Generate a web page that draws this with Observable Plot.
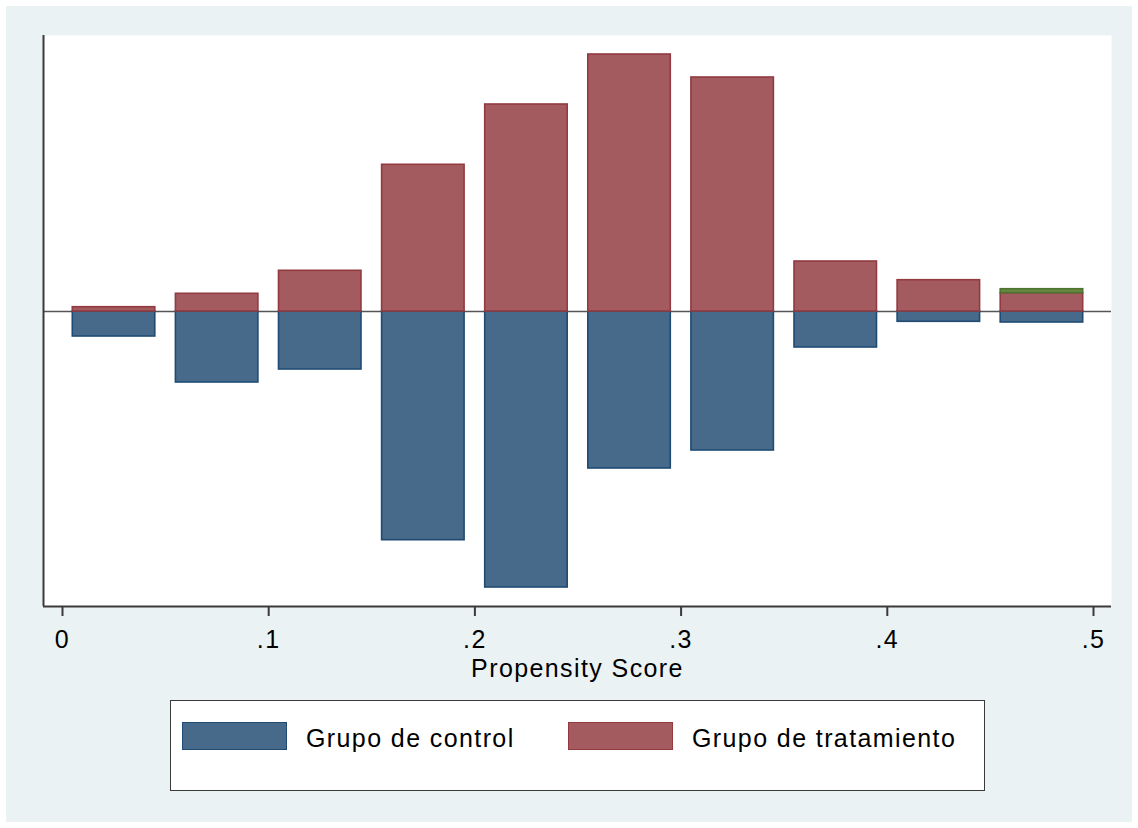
<!DOCTYPE html>
<html>
<head>
<meta charset="utf-8">
<script src="https://cdn.jsdelivr.net/npm/d3@7"></script>
<script src="https://cdn.jsdelivr.net/npm/@observablehq/plot@0.6"></script>
<style>
  html, body { margin: 0; padding: 0; background: #ffffff; }
  body { width: 1138px; height: 828px; position: relative; overflow: hidden;
         font-family: "Liberation Sans", Arial, sans-serif; }
  #panel { position: absolute; left: 6px; top: 6px; width: 1126px; height: 816px; background: #EAF2F3; }
  #chart { position: absolute; left: 0; top: 0; }
  #legend { position: absolute; left: 164px; top: 694px; width: 813px; height: 89px;
            background: #ffffff; border: 1.5px solid #3a3a3a; }
  .sw { position: absolute; top: 21px; width: 103px; height: 26px; border: 1.5px solid; }
  .lt { position: absolute; top: 22px; font-size: 25px; line-height: 30px; color: #000; letter-spacing: 1.4px; }
</style>
</head>
<body>
<div id="panel">
  <div id="chart"></div>
  <div id="legend"></div>
</div>
<script>
// Propensity score bin centres (bin width 0.05)
const binCenters = [0.025, 0.075, 0.125, 0.175, 0.225, 0.275, 0.325, 0.375, 0.425, 0.475];
// Frequencies (arbitrary units)
const treatedOn  = [4.3, 17.7, 40.7, 146.7, 207, 257, 234, 50, 31.3, 18.3];
const treatedOff = [0, 0, 0, 0, 0, 0, 0, 0, 0, 4];
const controlOn  = [25, 71, 58, 228.7, 276, 157, 139, 36, 10.3, 11];
const xTicks = [0, 0.1, 0.2, 0.3, 0.4, 0.5];
const seriesNames = ["Grupo de control", "Grupo de tratamiento"];
const colors = {control: {fill: "#476A8B", stroke: "#1F4B73"},
                treated: {fill: "#A35B5F", stroke: "#923A40"},
                off: {fill: "#66883F", stroke: "#4C7330"}};

const half = 0.02;
const rows = binCenters.map((c, i) => ({
  x1: c - half, x2: c + half,
  t: treatedOn[i], off: treatedOff[i], c: controlOn[i]
}));

const xDomain = [-0.00921, 0.50873];
const yDomain = [-295, 276];

const plot = Plot.plot({
  width: 1126,
  height: 690,
  marginLeft: 37,
  marginRight: 21,
  marginTop: 29,
  marginBottom: 90,
  style: {background: "transparent", fontFamily: "'Liberation Sans', Arial, sans-serif", fontSize: "25px", color: "#000"},
  x: {domain: xDomain},
  y: {domain: yDomain, axis: null},
  marks: [
    Plot.frame({fill: "#ffffff", stroke: null}),
    Plot.ruleY([0], {stroke: "#555", strokeWidth: 1.6}),
    Plot.rect(rows, {x1: "x1", x2: "x2", y1: 0, y2: d => -d.c,
      fill: colors.control.fill, stroke: colors.control.stroke, strokeWidth: 1.6}),
    Plot.rect(rows, {x1: "x1", x2: "x2", y1: 0, y2: "t",
      fill: colors.treated.fill, stroke: colors.treated.stroke, strokeWidth: 1.6}),
    Plot.rect(rows.filter(d => d.off > 0), {x1: "x1", x2: "x2", y1: "t", y2: d => d.t + d.off,
      fill: colors.off.fill, stroke: colors.off.stroke, strokeWidth: 1.6}),
    Plot.ruleY([yDomain[0]], {stroke: "#3a3a3a", strokeWidth: 2}),
    Plot.ruleX([xDomain[0]], {stroke: "#3a3a3a", strokeWidth: 2}),
    Plot.axisX({
      ticks: xTicks,
      tickFormat: d => d === 0 ? "0" : d3.format(".1f")(d).replace(/^0/, ""),
      tickSize: 10,
      tickPadding: 14,
      stroke: "#3a3a3a",
      strokeWidth: 2,
      fontSize: 25,
      label: null
    }),
    Plot.text(["Propensity Score"], {frameAnchor: "bottom", dy: 70, fontSize: 25, fill: "#000"})
  ]
});
document.getElementById("chart").appendChild(plot);

// stretch text slightly via letter spacing to match reference glyph widths
plot.querySelectorAll("text").forEach(t => t.setAttribute("letter-spacing", "1.4"));

// Legend
const legend = document.getElementById("legend");
const items = [
  {name: seriesNames[0], col: colors.control, sx: 11, tx: 135},
  {name: seriesNames[1], col: colors.treated, sx: 397, tx: 521}
];
items.forEach(it => {
  const sw = document.createElement("div");
  sw.className = "sw";
  sw.style.left = it.sx + "px";
  sw.style.background = it.col.fill;
  sw.style.borderColor = it.col.stroke;
  legend.appendChild(sw);
  const lt = document.createElement("div");
  lt.className = "lt";
  lt.style.left = it.tx + "px";
  lt.textContent = it.name;
  legend.appendChild(lt);
});
</script>
</body>
</html>
